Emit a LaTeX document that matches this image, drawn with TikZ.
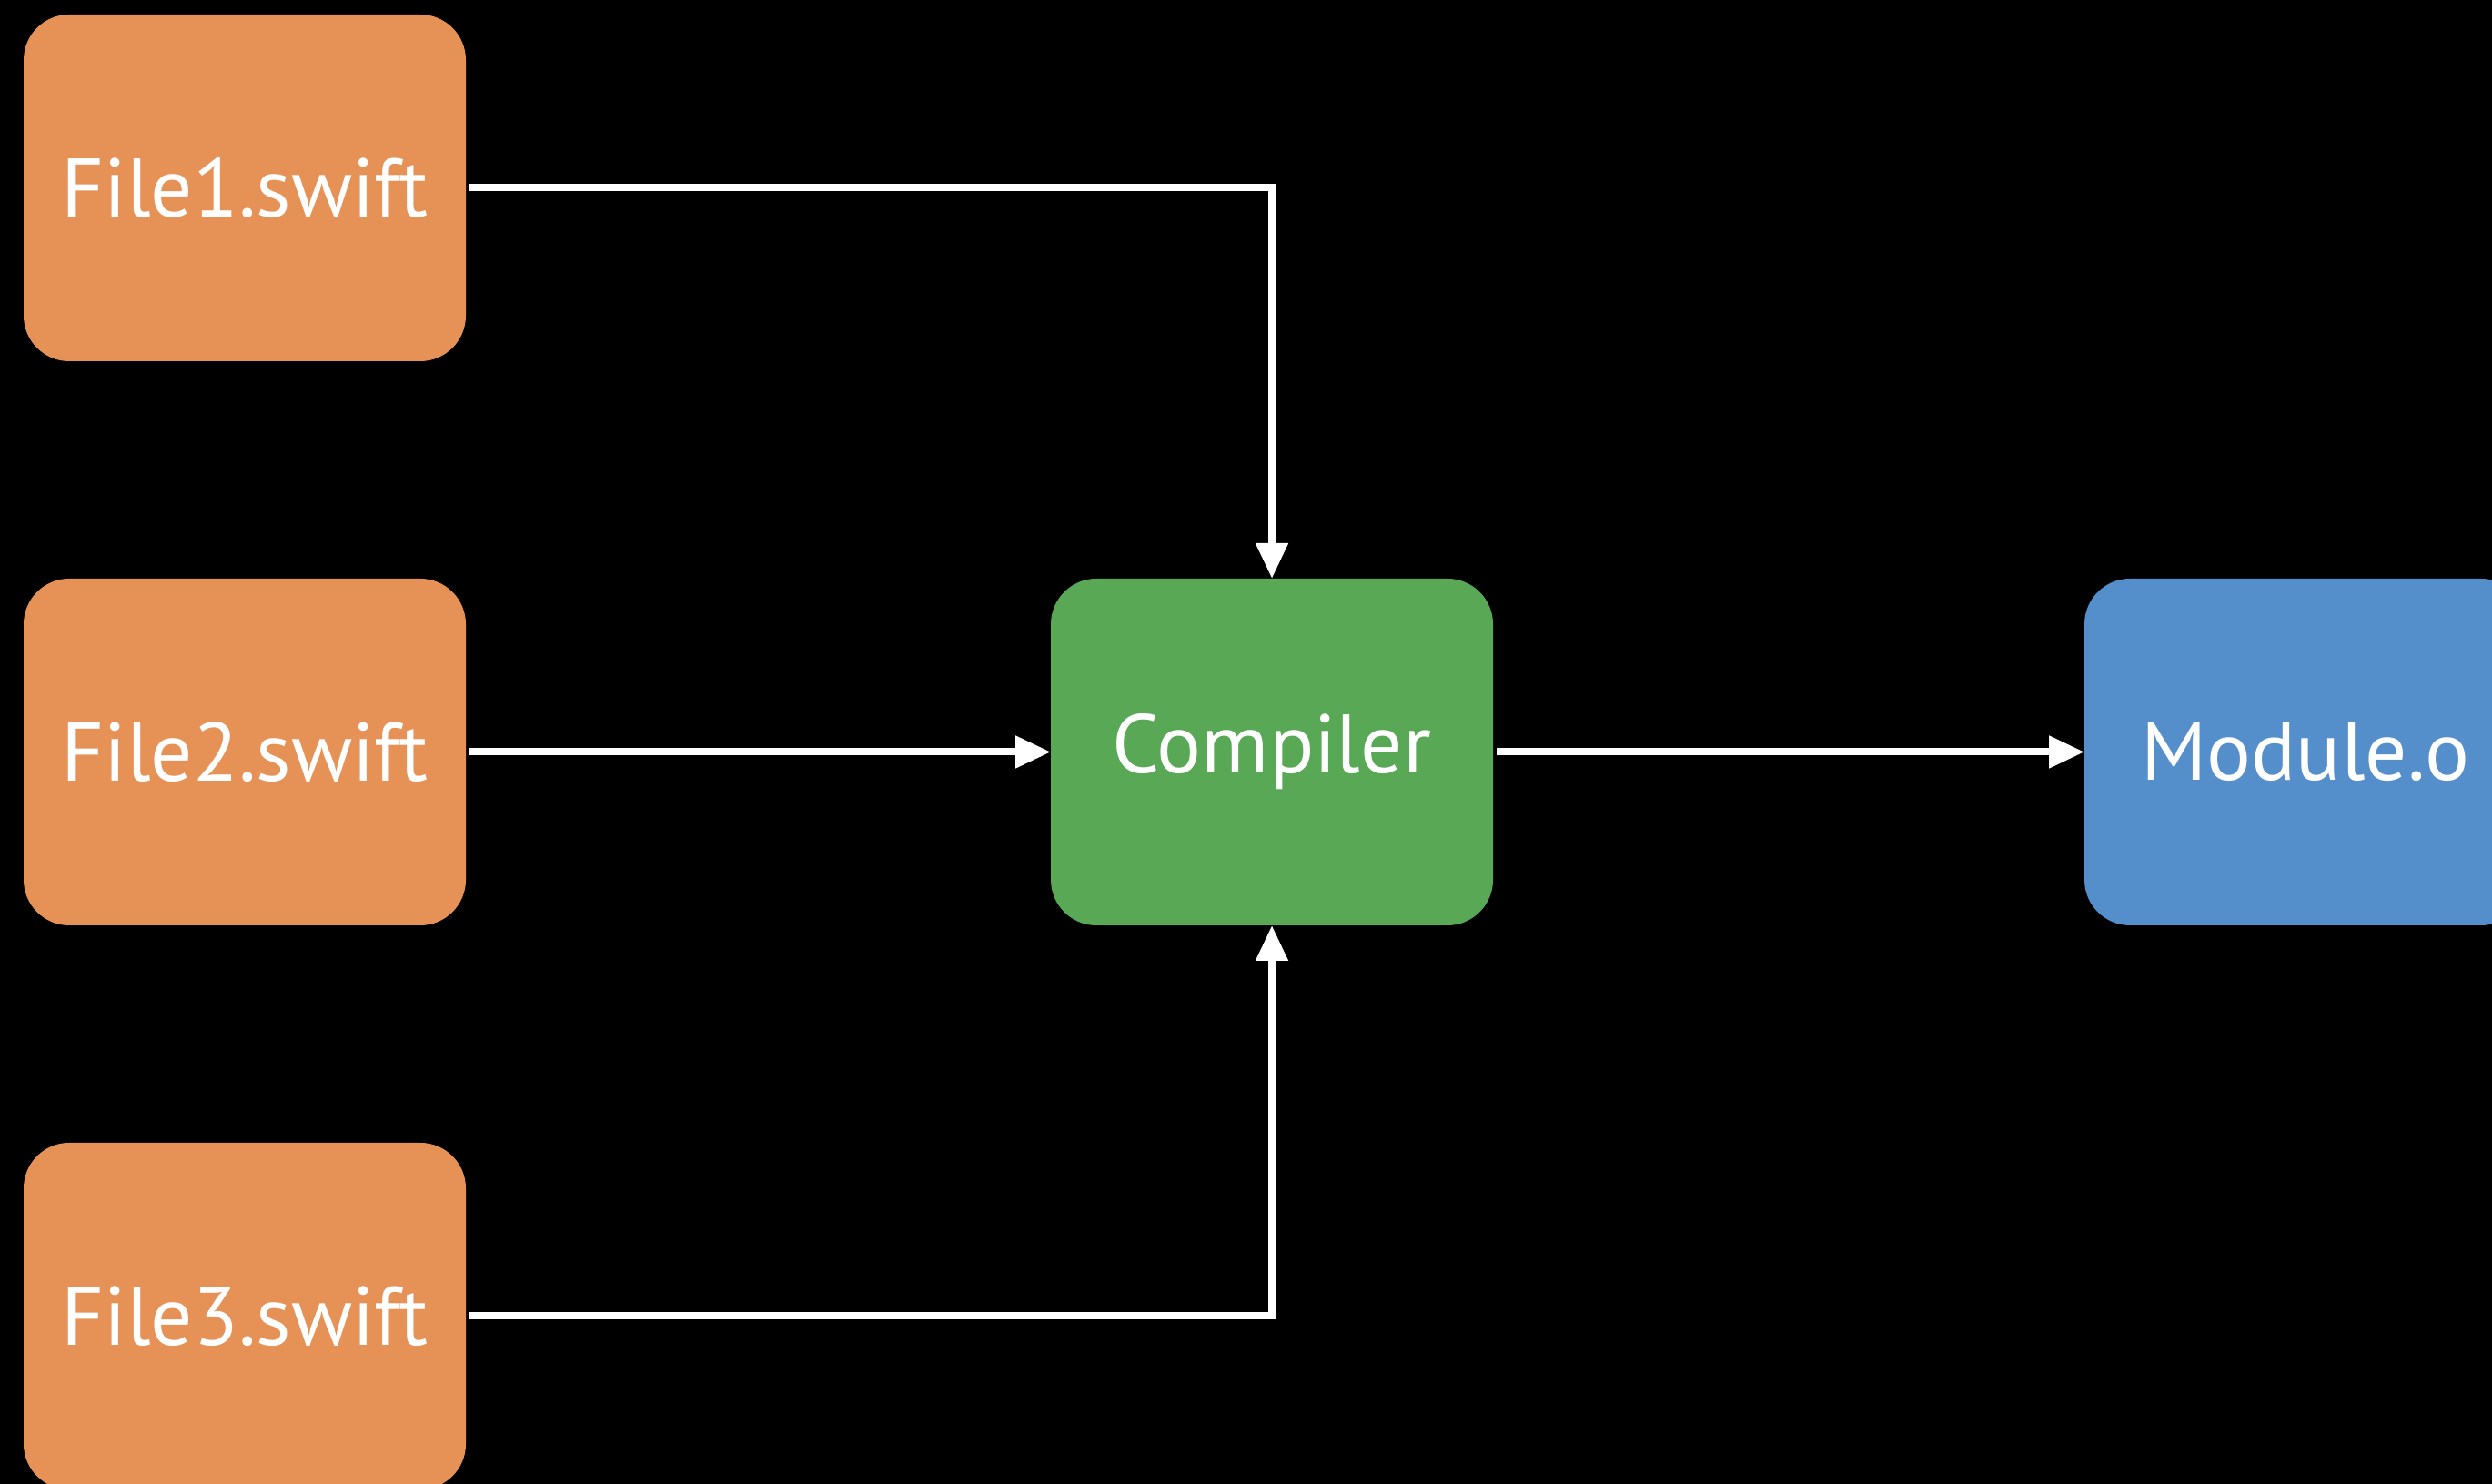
\documentclass[tikz,border=0pt]{standalone}
\usepackage{fontspec}
\setmainfont{PT Sans}
\usetikzlibrary{arrows.meta,positioning}
\definecolor{srcorange}{HTML}{E69155}
\definecolor{cmpgreen}{HTML}{59A856}
\definecolor{objblue}{HTML}{548FCB}
\tikzset{
  box/.style={rounded corners=5mm,draw=none,align=center,inner sep=0pt,outer sep=0pt,minimum width=48.6mm,minimum height=38.1mm,text=white,font=\fontsize{26}{31}\selectfont},
  srcbox/.style={box,fill=srcorange},
  cmpbox/.style={box,fill=cmpgreen},
  objbox/.style={box,fill=objblue},
  ar/.style={-{Triangle[length=3.9mm,width=3.4mm]},draw=white,line width=0.8mm,shorten <=0.4mm},
}

\begin{document}
\begin{tikzpicture}[node distance=23.9mm and 64.3mm]
  \fill[black] (0,0) rectangle (27.39,16.31);
  \useasboundingbox (0,0) rectangle (27.39,16.31);
  \node[srcbox] (f2) at (2.69,8.045) {File2.swift};
  \node[srcbox,above=of f2] (f1) {File1.swift};
  \node[srcbox,below=of f2] (f3) {File3.swift};
  \node[cmpbox,right=of f2] (comp) {Compiler};
  \node[objbox,right=65mm of comp] (mod) {Module.o};
  \draw[ar] (f1) -| (comp);
  \draw[ar] (f2) -- (comp);
  \draw[ar] (f3) -| (comp);
  \draw[ar] (comp) -- (mod);
\end{tikzpicture}
\end{document}
